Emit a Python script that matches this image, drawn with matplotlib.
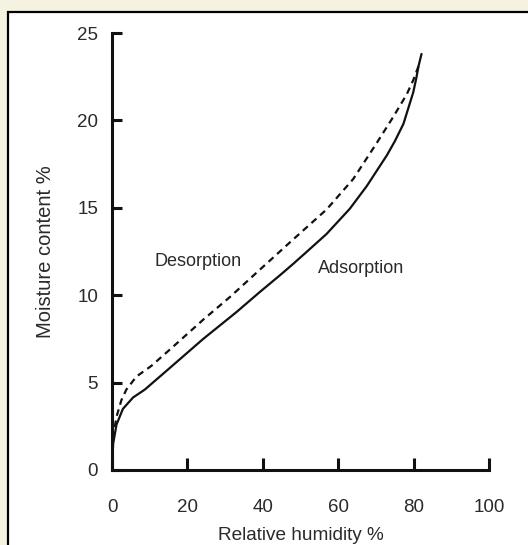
import matplotlib
matplotlib.use("Agg")
import matplotlib.pyplot as plt
from matplotlib.patches import Rectangle

plt.rcParams["font.family"] = ["Liberation Sans", "DejaVu Sans"]

# adsorption isotherm (solid)
ads_rh = [0, 0.3, 1.2, 2.9, 5.6, 8.7, 15.4, 24.2, 33.1, 39.3, 44.6, 48.1,
          52.0, 56.9, 63.1, 67.6, 72.9, 75.0, 77.3, 79.9, 80.7, 81.3, 82.1]
ads_mc = [0, 1.5, 2.6, 3.5, 4.15, 4.6, 5.85, 7.5, 9.05, 10.2, 11.15, 11.8,
          12.55, 13.5, 14.95, 16.25, 18.0, 18.8, 19.8, 21.6, 22.4, 23.1, 23.8]

# desorption isotherm (dashed)
des_rh = [0.2, 1.2, 2.5, 3.8, 6.5, 10.4, 15.4, 24.2, 31.3, 38.4, 48.1,
          56.9, 64.0, 70.2, 74.6, 78.2, 79.9, 81.3]
des_mc = [1.8, 3.05, 4.0, 4.6, 5.35, 5.95, 6.9, 8.6, 9.9, 11.3, 13.2,
          14.9, 16.65, 18.7, 20.2, 21.5, 22.3, 23.1]

x_ticks = [0, 20, 40, 60, 80, 100]
y_ticks = [0, 5, 10, 15, 20, 25]

W, H = 528, 545
txt = "#2a2a2a"

fig = plt.figure(figsize=(W / 100, H / 100), dpi=100)
fig.patch.set_facecolor("#f5f2e2")
# black frame that runs off the right and bottom of the picture
fig.patches.append(Rectangle((8 / W, -0.1), 1.2, 1 - 12 / H + 0.1,
                             transform=fig.transFigure, facecolor="white",
                             edgecolor="black", lw=1.6, zorder=-10))

ax = fig.add_axes([112 / W, 1 - 470 / H, (489 - 112) / W, (470 - 33) / H])
ax.set_facecolor("none")
ax.set_zorder(5)

ax.plot(ads_rh, ads_mc, color="#111111", lw=1.6, solid_capstyle="round",
        solid_joinstyle="round")
ax.plot(des_rh, des_mc, color="#111111", lw=1.6, linestyle=(0, (3.0, 2.2)))

ax.text(11.4, 11.9, "Desorption", fontsize=13, color=txt, va="center")
ax.text(54.6, 11.55, "Adsorption", fontsize=13, color=txt, va="center")

ax.set_xlim(0, 100)
ax.set_ylim(0, 25)
ax.set_xticks(x_ticks)
ax.set_yticks(y_ticks)
for s in ("top", "right"):
    ax.spines[s].set_visible(False)
for s in ("left", "bottom"):
    ax.spines[s].set_linewidth(2.2)
    ax.spines[s].set_color("#111111")
ax.tick_params(axis="x", direction="in", length=9, width=2.2, pad=21,
               labelsize=13.5, labelcolor=txt, color="#111111")
ax.tick_params(axis="y", direction="in", length=7, width=2.2, pad=10,
               labelsize=13.5, labelcolor=txt, color="#111111")

ax.set_xlabel("Relative humidity %", fontsize=13.7, color=txt, labelpad=7.5)
ax.set_ylabel("Moisture content %", fontsize=14.5, color=txt, labelpad=16)

fig.savefig("out.png", dpi=100)
